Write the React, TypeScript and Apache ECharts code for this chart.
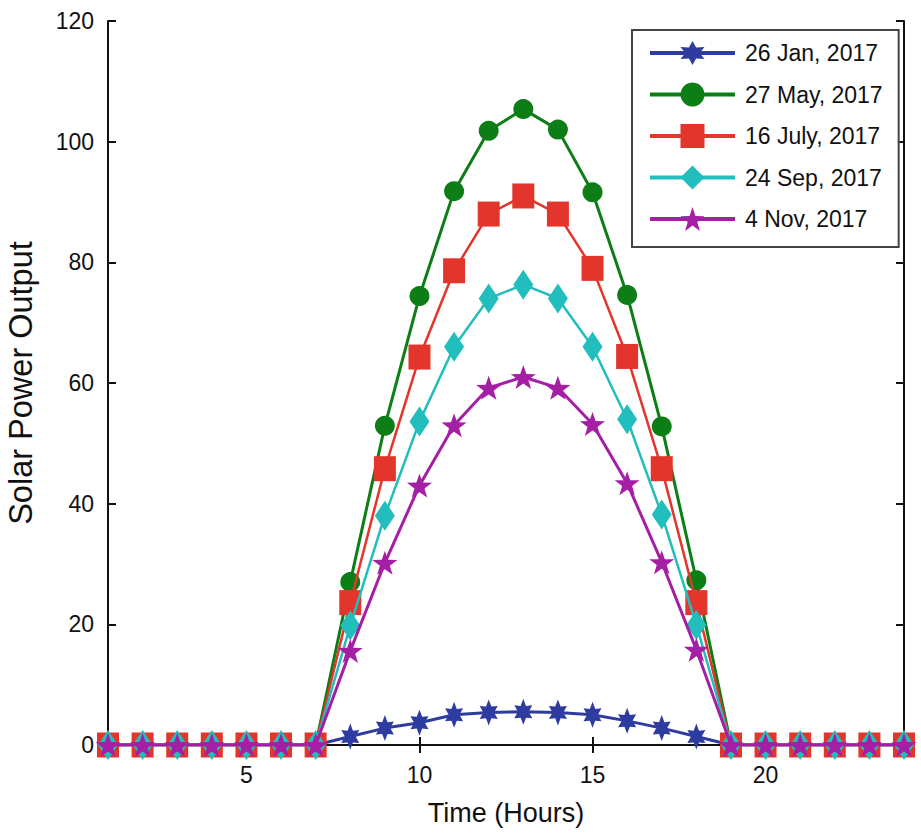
import React, { useEffect, useRef } from "react";
import * as echarts from "echarts";

const hours = [1, 2, 3, 4, 5, 6, 7, 8, 9, 10, 11, 12, 13, 14, 15, 16, 17, 18, 19, 20, 21, 22, 23, 24];
const seriesNames = ["26 Jan, 2017", "27 May, 2017", "16 July, 2017", "24 Sep, 2017", "4 Nov, 2017"];
const jan26 = [0, 0, 0, 0, 0, 0, 0, 1.4, 2.8, 3.7, 5.0, 5.4, 5.5, 5.4, 5.0, 4.0, 2.8, 1.4, 0, 0, 0, 0, 0, 0];
const may27 = [0, 0, 0, 0, 0, 0, 0, 27.0, 52.9, 74.4, 91.8, 101.8, 105.4, 102.0, 91.6, 74.6, 52.8, 27.3, 0, 0, 0, 0, 0, 0];
const july16 = [0, 0, 0, 0, 0, 0, 0, 23.6, 45.8, 64.3, 78.6, 88.0, 91.0, 88.0, 79.0, 64.4, 45.8, 23.6, 0, 0, 0, 0, 0, 0];
const sep24 = [0, 0, 0, 0, 0, 0, 0, 19.8, 38.0, 53.6, 66.0, 74.0, 76.3, 74.0, 66.0, 54.0, 38.2, 19.9, 0, 0, 0, 0, 0, 0];
const nov4 = [0, 0, 0, 0, 0, 0, 0, 15.6, 30.2, 43.0, 53.0, 59.2, 61.0, 59.2, 53.2, 43.4, 30.3, 15.8, 0, 0, 0, 0, 0, 0];
const xTicks = [5, 10, 15, 20];

const colors = ["#2f3c9f", "#0c7e15", "#e3352b", "#22bdbd", "#a51fa5"];

function starPath(points: number, outer: number, inner: number): string {
  const pts: string[] = [];
  for (let i = 0; i < points * 2; i++) {
    const r = i % 2 === 0 ? outer : inner;
    const a = -Math.PI / 2 + (i * Math.PI) / points;
    pts.push(`${(r * Math.cos(a)).toFixed(3)} ${(r * Math.sin(a)).toFixed(3)}`);
  }
  return "path://M" + pts.join(" L") + " Z";
}

const pentagram = starPath(5, 10, 4);
const hexagram = starPath(6, 10, 5.2);

const font = "'Liberation Sans', Arial, sans-serif";

export default function App() {
  const ref = useRef<HTMLDivElement>(null);
  useEffect(() => {
    if (!ref.current) return;
    const chart = echarts.init(ref.current, null, { renderer: "svg" });
    const mk = (i: number, data: number[], symbol: string, size: any, width: number) => ({
      name: seriesNames[i],
      type: "line",
      data: hours.map((h, k) => [h, data[k]]),
      symbol,
      symbolSize: size,
      showSymbol: true,
      lineStyle: { color: colors[i], width },
      itemStyle: { color: colors[i] },
      z: 2 + i,
    });
    chart.setOption({
      animation: false,
      backgroundColor: "#ffffff",
      grid: { left: 108, top: 21, right: 17, bottom: 89, outerBoundsMode: "none", containLabel: false },
      legend: {
        show: true,
        orient: "vertical",
        left: 632,
        top: 30,
        padding: [11, 16, 16, 16],
        itemWidth: 85,
        itemHeight: 30,
        itemGap: 17.5,
        borderColor: "#444444",
        borderWidth: 2,
        backgroundColor: "#ffffff",
        lineStyle: { width: 4 },
        textStyle: { fontFamily: font, fontSize: 23, color: "#111111", padding: [0, 0, 0, 5] },
        data: seriesNames,
      },
      xAxis: [
        {
          type: "value",
          min: 1,
          max: 24,
          position: "bottom",
          name: "Time (Hours)",
          nameLocation: "middle",
          nameGap: 54,
          nameTextStyle: { fontFamily: font, fontSize: 27, color: "#111111" },
          axisLine: { show: true, lineStyle: { color: "#111111", width: 2 } },
          axisTick: { show: true, inside: true, length: 8, customValues: xTicks, lineStyle: { color: "#111111", width: 2 } },
          axisLabel: { show: true, customValues: xTicks, margin: 18, fontFamily: font, fontSize: 23, color: "#111111" },
          splitLine: { show: false },
        },
        {
          type: "value",
          min: 1,
          max: 24,
          position: "top",
          axisLine: { show: true, lineStyle: { color: "#111111", width: 2 } },
          axisTick: { show: true, inside: true, length: 8, customValues: xTicks, lineStyle: { color: "#111111", width: 2 } },
          axisLabel: { show: false },
          splitLine: { show: false },
        },
      ],
      yAxis: [
        {
          type: "value",
          min: 0,
          max: 120,
          interval: 20,
          position: "left",
          name: "Solar Power Output",
          nameLocation: "middle",
          nameGap: 71,
          nameTextStyle: { fontFamily: font, fontSize: 32.5, color: "#111111" },
          axisLine: { show: true, lineStyle: { color: "#111111", width: 2 } },
          axisTick: { show: true, inside: true, length: 8, lineStyle: { color: "#111111", width: 2 } },
          axisLabel: { show: true, margin: 14, fontFamily: font, fontSize: 23, color: "#111111" },
          splitLine: { show: false },
        },
        {
          type: "value",
          min: 0,
          max: 120,
          interval: 20,
          position: "right",
          axisLine: { show: true, lineStyle: { color: "#111111", width: 2 } },
          axisTick: { show: true, inside: true, length: 8, lineStyle: { color: "#111111", width: 2 } },
          axisLabel: { show: false },
          splitLine: { show: false },
        },
      ],
      series: [
        mk(0, jan26, hexagram, [18, 26], 3),
        mk(1, may27, "circle", [20, 20], 3),
        mk(2, july16, "rect", [22, 25], 2.5),
        mk(3, sep24, "diamond", [20, 30], 2.5),
        mk(4, nov4, pentagram, [25, 24], 3),
      ],
    });
    return () => chart.dispose();
  }, []);
  return <div ref={ref} style={{ position: "absolute", left: 0, top: 0, width: 921, height: 834 }} />;
}
